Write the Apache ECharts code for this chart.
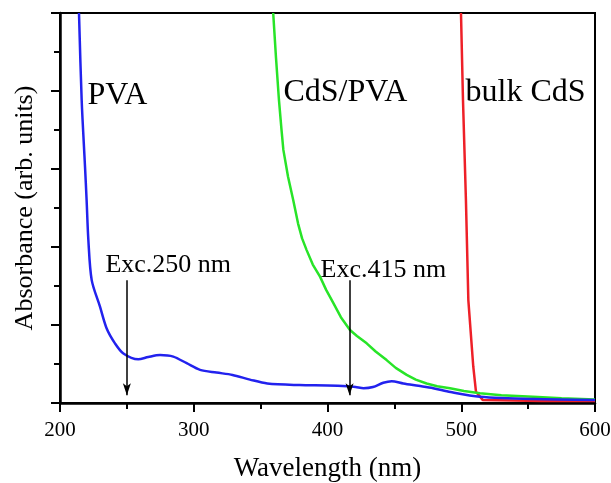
<!DOCTYPE html>
<html>
<head>
<meta charset="utf-8">
<title>Absorbance spectra</title>
<script src="https://cdn.jsdelivr.net/npm/echarts@6/dist/echarts.min.js"></script>
<style>
  html, body { margin: 0; padding: 0; background: #fff; }
  #chart { width: 611px; height: 483px; }
</style>
</head>
<body>
<div id="chart"></div>
<script>
// wavelength (nm) / absorbance (arb. units)
const pvaX = [214.2, 216.2, 218.7, 219.9, 221.2, 223.7, 229.9, 234.9, 241.1, 247.4, 258.5, 266, 274.8, 284.7, 294.7, 304.7, 317, 329, 342, 355, 379, 400, 415, 421, 427, 434, 441.7, 448, 456.7, 468, 479, 492, 514, 554, 600];
const pvaY = [10, 7.77, 6.06, 5.2, 4.18, 3.15, 2.47, 1.91, 1.53, 1.27, 1.12, 1.18, 1.23, 1.19, 1.02, 0.85, 0.78, 0.72, 0.6, 0.5, 0.46, 0.45, 0.43, 0.41, 0.38, 0.41, 0.52, 0.56, 0.5, 0.44, 0.38, 0.28, 0.16, 0.1, 0.08];

const cdsPvaX = [359.4, 361.5, 363.7, 365.5, 367, 370.5, 374.4, 378, 381, 384.4, 389, 394.4, 399, 404.4, 410, 416.8, 422, 429.3, 436, 444.2, 451, 459.2, 466, 474.1, 482, 491.6, 502, 514, 530, 553.6, 575, 600];
const cdsPvaY = [10, 8.85, 7.77, 7.05, 6.49, 5.8, 5.2, 4.6, 4.22, 3.92, 3.55, 3.24, 2.9, 2.56, 2.2, 1.87, 1.72, 1.53, 1.32, 1.1, 0.9, 0.72, 0.6, 0.5, 0.43, 0.38, 0.31, 0.25, 0.2, 0.16, 0.12, 0.09];

const bulkX = [499.8, 501.3, 503.5, 505.3, 509, 511, 516, 560, 600];
const bulkY = [10, 7.77, 5.2, 2.64, 0.93, 0.29, 0.08, 0.05, 0.05];

const xTicks = [200, 300, 400, 500, 600];

const noteText = ['PVA', 'CdS/PVA', 'bulk CdS', 'Exc.250 nm', 'Exc.415 nm'];
const noteX = [220.2, 366.7, 502.8, 233.6, 394.4];
const noteY = [7.87, 7.96, 7.95, 3.54, 3.41];
const noteSize = [32, 32, 32, 26, 26];

const arrowX = [250, 416.5];
const arrowTop = 3.15;
const arrowBottom = 0.2;

const serif = 'Liberation Serif, Times New Roman, serif';

function pairs(xs, ys) {
  return xs.map((x, i) => [x, ys[i]]);
}

const chart = echarts.init(document.getElementById('chart'));

const option = {
  animation: false,
  backgroundColor: '#fff',
  grid: {
    left: 60, right: 16, top: 13, bottom: 80,
    outerBoundsMode: 'none', containLabel: false,
    show: true, borderColor: '#000', borderWidth: 2
  },
  xAxis: {
    type: 'value',
    min: xTicks[0], max: xTicks[xTicks.length - 1], interval: 100,
    name: 'Wavelength (nm)', nameLocation: 'middle', nameGap: 52,
    nameTextStyle: { fontFamily: serif, fontSize: 27, color: '#000' },
    axisLine: { lineStyle: { color: '#000', width: 2.5 } },
    axisTick: { length: 9, lineStyle: { color: '#000', width: 2 } },
    minorTick: { show: true, splitNumber: 2, length: 6, lineStyle: { color: '#000', width: 2 } },
    axisLabel: { fontFamily: serif, fontSize: 21, color: '#000', margin: 17 },
    splitLine: { show: false }
  },
  yAxis: {
    type: 'value',
    min: 0, max: 10, interval: 2,
    name: 'Absorbance (arb. units)', nameLocation: 'middle', nameGap: 22,
    nameTextStyle: { fontFamily: serif, fontSize: 26, color: '#000' },
    axisLine: { lineStyle: { color: '#000', width: 2.5 } },
    axisTick: { length: 9, lineStyle: { color: '#000', width: 2 } },
    minorTick: { show: true, splitNumber: 2, length: 6, lineStyle: { color: '#000', width: 2 } },
    axisLabel: { show: false },
    splitLine: { show: false }
  },
  series: [
    {
      name: 'bulk CdS', type: 'line', data: pairs(bulkX, bulkY),
      showSymbol: false, clip: true,
      lineStyle: { color: '#ee2028', width: 2.5 }
    },
    {
      name: 'CdS/PVA', type: 'line', data: pairs(cdsPvaX, cdsPvaY),
      showSymbol: false, clip: true,
      lineStyle: { color: '#28e428', width: 2.5 }
    },
    {
      name: 'PVA', type: 'line', data: pairs(pvaX, pvaY),
      showSymbol: false, smooth: 0.3, clip: true,
      lineStyle: { color: '#2222ee', width: 2.5 }
    },
    {
      name: 'notes', type: 'scatter', symbolSize: 1, silent: true,
      itemStyle: { color: '#fff', opacity: 1 },
      data: noteText.map((t, i) => ({
        value: [noteX[i], noteY[i]],
        label: {
          show: true, formatter: t, position: 'right', distance: 0,
          fontFamily: serif, fontSize: noteSize[i], color: '#000', opacity: 1
        }
      })),
      markLine: {
        silent: true,
        symbol: ['none', 'arrow'],
        symbolSize: [6, 12],
        label: { show: false },
        lineStyle: { color: '#000', width: 1.5, type: 'solid' },
        data: arrowX.map(x => [{ coord: [x, arrowTop] }, { coord: [x, arrowBottom] }])
      }
    }
  ]
};

chart.setOption(option);
window.addEventListener('resize', () => {
  chart.resize();
});
</script>
</body>
</html>
